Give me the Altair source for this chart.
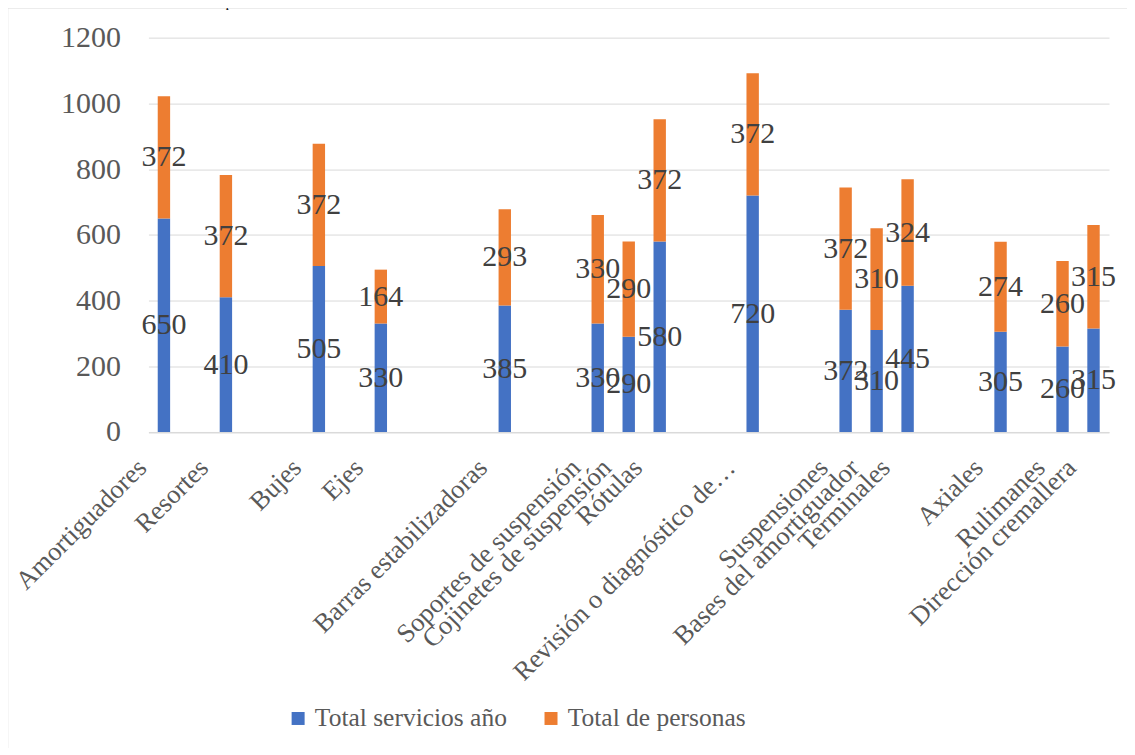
import json
import altair as alt
import pandas as pd

title_text = "Frecuencia anual de uso de servicios de suspensión"

# Category slots as in the source sheet (empty strings are blank rows)
categories = [
    "Amortiguadores", "", "Resortes", "", "", "Bujes", "", "Ejes", "", "", "",
    "Barras estabilizadoras", "", "", "Soportes de suspensión",
    "Cojinetes de suspensión", "Rótulas", "", "", "Revisión o diagnóstico de…",
    "", "", "Suspensiones", "Bases del amortiguador", "Terminales", "", "",
    "Axiales", "", "Rulimanes", "Dirección cremallera",
]
servicios = [650, None, 410, None, None, 505, None, 330, None, None, None,
             385, None, None, 330, 290, 580, None, None, 720, None, None,
             372, 310, 445, None, None, 305, None, 260, 315]
personas = [372, None, 372, None, None, 372, None, 164, None, None, None,
            293, None, None, 330, 290, 372, None, None, 372, None, None,
            372, 310, 324, None, None, 274, None, 260, 315]

series_names = ["Total servicios año", "Total de personas"]
series_colors = ["#4472c4", "#ed7d31"]
y_ticks = [0, 200, 400, 600, 800, 1000, 1200]

rows = []
for i, cat in enumerate(categories):
    for k, vals in enumerate([servicios, personas]):
        if vals[i] is not None:
            rows.append({"slot": i, "cat": cat, "serie": series_names[k],
                         "ord": k, "value": vals[i]})
df = pd.DataFrame(rows)

FONT = "Liberation Serif"
label_expr = json.dumps(categories, ensure_ascii=False) + "[datum.value]"

x_enc = alt.X(
    "slot:O",
    scale=alt.Scale(domain=list(range(len(categories))), paddingInner=0.6, paddingOuter=0.3),
    axis=alt.Axis(
        title=None, labelExpr=label_expr, labelAngle=-45, labelFont=FONT,
        labelFontSize=26.5, labelColor="#595959", ticks=False, domainColor="#d9d9d9",
        labelAlign="right", labelBaseline="alphabetic",
        labelPadding=37, labelOffset=-16, labelLimit=1000, labelOverlap=False,
    ),
)

base = alt.Chart(df).transform_stack(
    stack="value", groupby=["slot"], as_=["y0", "y1"],
    sort=[alt.SortField("ord", order="ascending")],
).transform_calculate(mid="(datum.y0 + datum.y1) / 2")

bars = base.mark_bar().encode(
    x=x_enc,
    y=alt.Y("y0:Q", scale=alt.Scale(domain=[0, 1200]),
            axis=alt.Axis(title=None, values=y_ticks, format="d", grid=True, gridColor="#d9d9d9",
                          domain=False, ticks=False, labelFont=FONT, labelFontSize=30,
                          labelColor="#595959", labelPadding=28)),
    y2="y1:Q",
    color=alt.Color("serie:N", scale=alt.Scale(domain=series_names, range=series_colors),
                    legend=alt.Legend(title=None, orient="none", legendX=137, legendY=668,
                                      direction="horizontal", columnPadding=31,
                                      symbolType="square", symbolSize=169,
                                      symbolStrokeWidth=0, labelFont=FONT,
                                      labelFontSize=25.5, labelColor="#595959",
                                      labelOffset=4, labelLimit=1000, padding=0)),
)

labels = base.mark_text(font=FONT, fontSize=30, color="#404040", baseline="middle").encode(
    x=x_enc,
    y=alt.Y("mid:Q"),
    text=alt.Text("value:Q"),
)

frame_df = pd.DataFrame({"t": [title_text]})
frame = alt.Chart(frame_df).mark_rect(fill=None, stroke="#d9d9d9", strokeWidth=1.5).encode(
    x=alt.value(-141), y=alt.value(-30), x2=alt.value(1200), y2=alt.value(800)
)
title_mark = alt.Chart(frame_df).mark_text(font=FONT, fontSize=13, color="#000000",
                                           align="left", baseline="alphabetic").encode(
    x=alt.value(-148), y=alt.value(-31), text="t:N"
)

chart = alt.layer(frame, bars, labels, title_mark).properties(
    width=961, height=394.5,
    autosize=alt.AutoSizeParams(type="none"),
    padding={"left": 140.5, "top": 29.5, "right": 18, "bottom": 316},
).configure_view(stroke=None)

chart.save("out.html", embed_options={"renderer": "svg", "actions": False})
